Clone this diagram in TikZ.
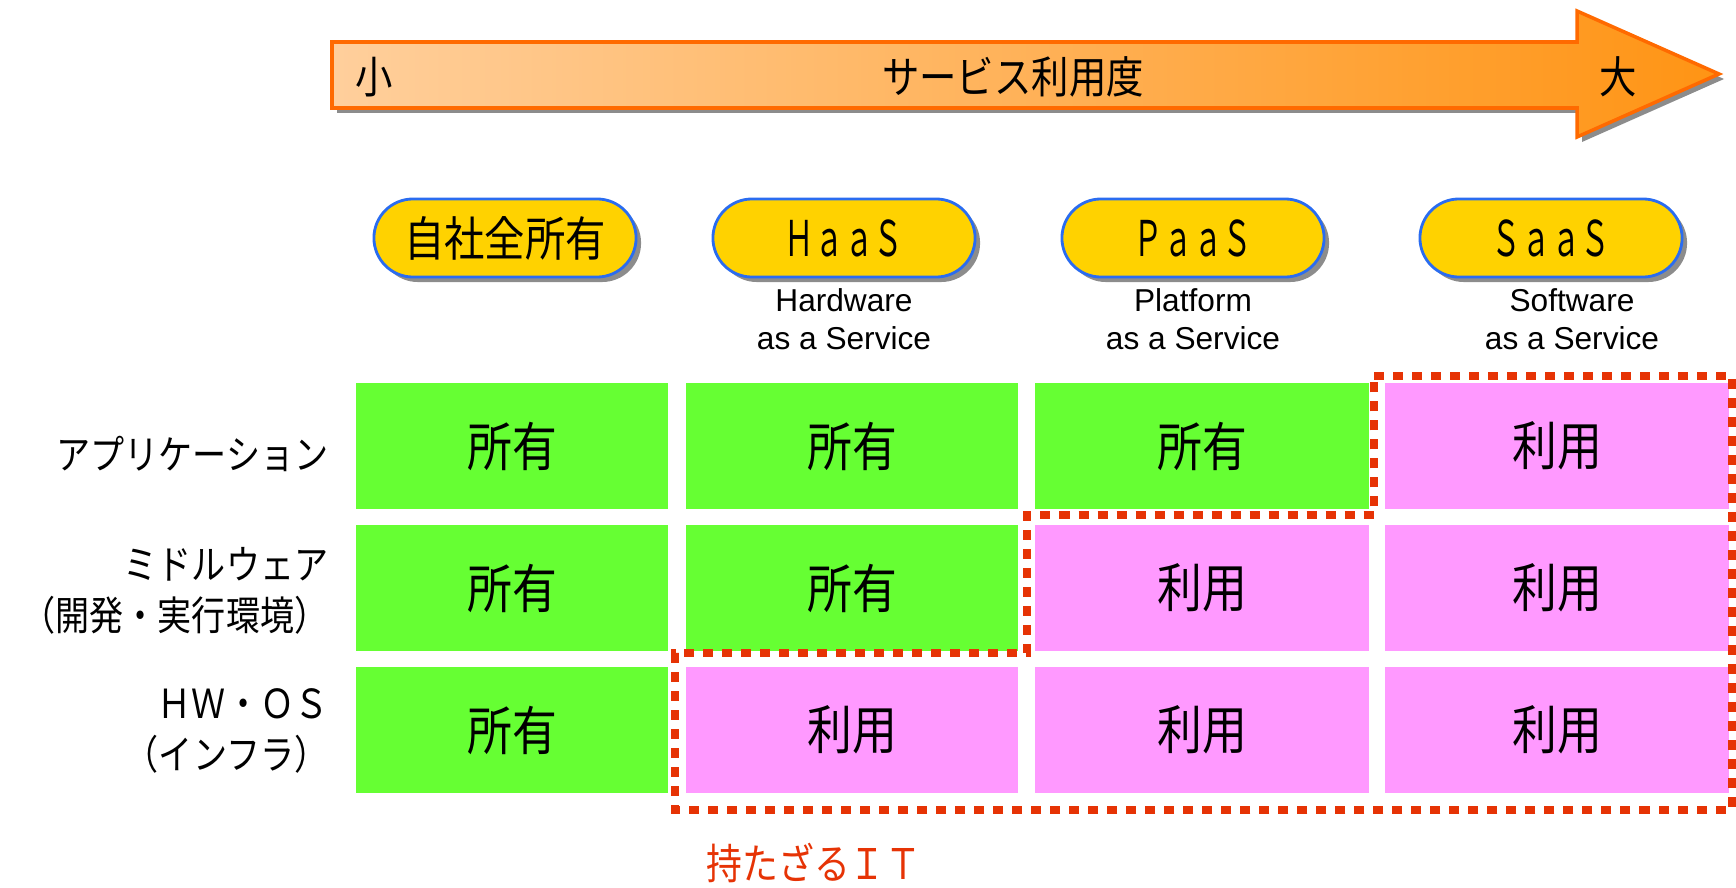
\documentclass[tikz,border=0pt]{standalone}
\usepackage{fontspec}
\setmainfont{Liberation Sans}
\newfontfamily\jp[FakeStretch=0.85]{Noto Sans CJK JP}
\newfontfamily\jpnarrow[FakeStretch=0.6]{Noto Sans CJK JP}
\usetikzlibrary{positioning,shadows}

\definecolor{arrowlight}{HTML}{FFCF9C}
\definecolor{arrowdark}{HTML}{FF9414}
\definecolor{arrowline}{HTML}{FF6A00}
\definecolor{pillgold}{HTML}{FFD200}
\definecolor{pillblue}{HTML}{2A6CF0}
\definecolor{owngreen}{HTML}{66FF33}
\definecolor{usepink}{HTML}{FF99FF}
\definecolor{notred}{HTML}{E63305}

\begin{document}
\begin{tikzpicture}[x=0.01cm, y=-0.01cm,
    cell/.style = {minimum height=1.25cm, inner sep=0pt, font=\jp\fontsize{15}{17}\selectfont},
    own/.style = {cell, fill=owngreen},
    use/.style = {cell, fill=usepink},
    pill/.style = {draw=pillblue, line width=0.8pt, fill=pillgold, rounded corners=0.39cm,
      minimum width=2.62cm, minimum height=0.78cm, inner sep=0pt,
      font=\jp\fontsize{13.5}{15}\selectfont,
      drop shadow={shadow xshift=0.05cm, shadow yshift=-0.05cm, fill=black!45, opacity=1}},
    note/.style = {align=center, inner sep=0pt, font=\fontsize{9}{10.8}\selectfont},
    rowlab/.style = {anchor=east, align=right, inner sep=0pt, font=\jp\fontsize{11.4}{14.6}\selectfont},
    nothave/.style = {draw=notred, line width=0.08cm, dash pattern=on 0.1cm off 0.09cm}]
\useasboundingbox (0,0) rectangle (1736,888);

% usage arrow
\fill[black!45, shift={(5,5)}] (332,42) -- (1577,42) -- (1577,11) -- (1719,74) -- (1577,137) -- (1577,108) -- (332,108) -- cycle;
\shade[draw=arrowline, line width=1pt, left color=arrowlight, right color=arrowdark]
  (332,42) -- (1577,42) -- (1577,11) -- (1719,74) -- (1577,137) -- (1577,108) -- (332,108) -- cycle;
\node[font=\jp\fontsize{12.5}{14}\selectfont] (small) at (374,77) {小};
\node[font=\jp\fontsize{12.5}{14}\selectfont] (usage) at (1013,77) {サービス利用度};
\node[font=\jp\fontsize{12.5}{14}\selectfont] (large) at (1618,77) {大};

% service types
\node[pill] (onprem) at (505,238) {自社全所有};
\node[pill, font=\jpnarrow\fontsize{14}{15}\selectfont] (haas) at (844,238) {ＨａａＳ};
\node[pill, font=\jpnarrow\fontsize{14}{15}\selectfont] (paas) at (1193,238) {ＰａａＳ};
\node[pill, font=\jpnarrow\fontsize{14}{15}\selectfont] (saas) at (1551,238) {ＳａａＳ};
\node[note, below=0.09cm of haas] (haasnote) {Hardware\\as a Service};
\node[note, below=0.09cm of paas] (paasnote) {Platform\\as a Service};
\node[note, below=0.09cm of saas, xshift=0.21cm] (saasnote) {Software\\as a Service};

% layers
\node[rowlab] (app) at (329,454) {アプリケーション};
\node[rowlab] (mid) at (329,591) {ミドルウェア\\（開発・実行環境）};
\node[rowlab] (infra) at (329,731) {ＨＷ・ＯＳ\\（インフラ）};

% ownership grid
\node[own, minimum width=3.12cm] (a1) at (512,446) {所有};
\node[own, minimum width=3.32cm] (a2) at (852,446) {所有};
\node[own, minimum width=3.34cm] (a3) at (1202,446) {所有};
\node[use, minimum width=3.43cm] (a4) at (1557,446) {利用};
\node[own, minimum width=3.12cm] (m1) at (512,588) {所有};
\node[own, minimum width=3.32cm] (m2) at (852,588) {所有};
\node[use, minimum width=3.34cm] (m3) at (1202,588) {利用};
\node[use, minimum width=3.43cm] (m4) at (1557,588) {利用};
\node[own, minimum width=3.12cm] (i1) at (512,730) {所有};
\node[use, minimum width=3.32cm] (i2) at (852,730) {利用};
\node[use, minimum width=3.34cm] (i3) at (1202,730) {利用};
\node[use, minimum width=3.43cm] (i4) at (1557,730) {利用};

% not-owned IT
\draw[nothave] (1374,376) -- (1732,376) -- (1732,810) -- (675,810) -- (675,653)
  -- (1027,653) -- (1027,515) -- (1374,515) -- cycle;
\node[text=notred, font=\jp\fontsize{12}{14}\selectfont] (nothavelab) at (814,863) {持たざるＩＴ};
\end{tikzpicture}
\end{document}
